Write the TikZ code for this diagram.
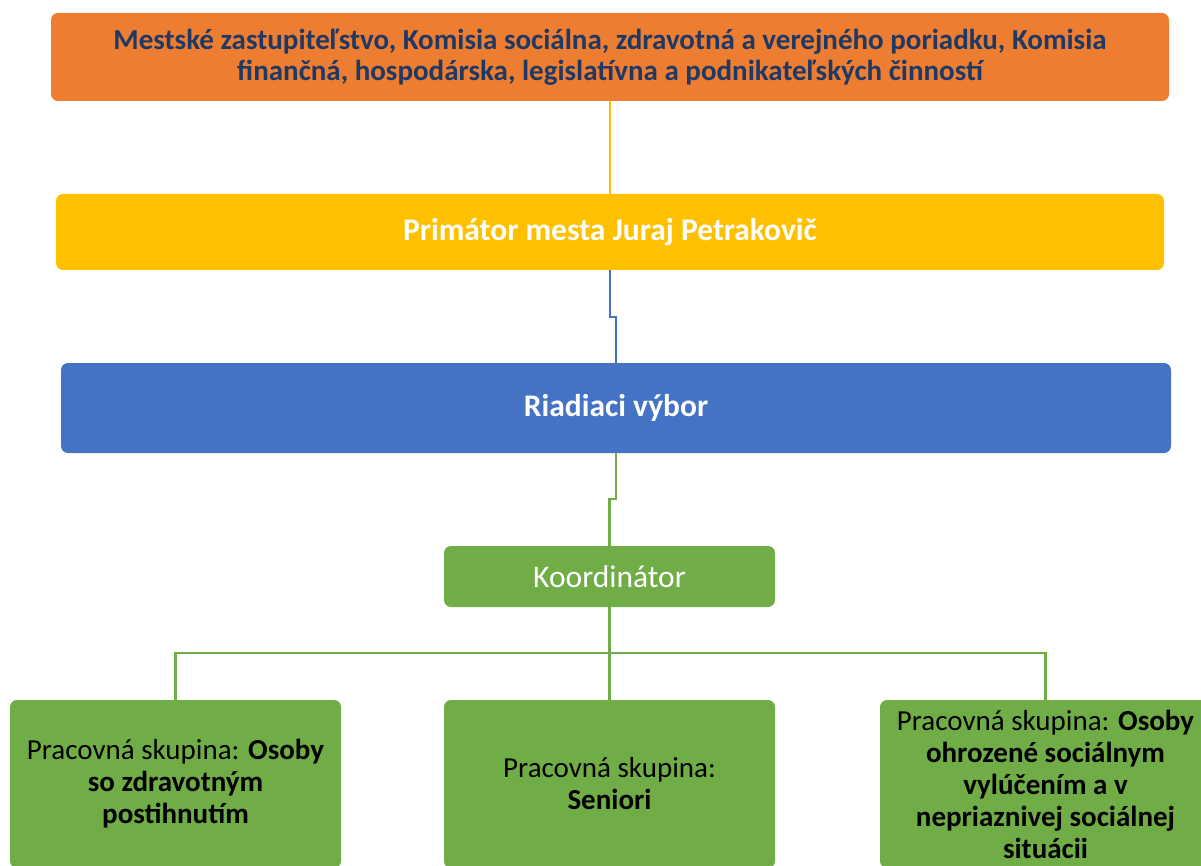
\documentclass[tikz,border=0pt]{standalone}
\usepackage{fontspec}
\setmainfont{Carlito}
\definecolor{orgorange}{HTML}{ED7D31}
\definecolor{orgyellow}{HTML}{FFC000}
\definecolor{orgblue}{HTML}{4472C4}
\definecolor{orggreen}{HTML}{70AD47}
\definecolor{orgnavy}{HTML}{203864}
\begin{document}
\begin{tikzpicture}[x=1pt,y=-1pt]
\tikzset{unit/.style={rounded corners=7pt, inner sep=0pt, align=center, text=white, font=\fontsize{31.5}{36}\selectfont},
  group/.style={unit, fill=orggreen, minimum width=331pt, minimum height=168pt, text=black, font=\fontsize{29}{32}\selectfont}}
    \useasboundingbox (0,0) rectangle (1201,866);
    \clip (0,0) rectangle (1201,866);

    \node[unit, fill=orgorange, minimum width=1118pt, minimum height=88pt, text=orgnavy, font=\fontsize{29}{31}\selectfont\bfseries] at (610,57) (council)
      {Mestské zastupiteľstvo, Komisia sociálna, zdravotná a verejného poriadku, Komisia\\finančná, hospodárska, legislatívna a podnikateľských činností};
    \node[unit, fill=orgyellow, minimum width=1108pt, minimum height=76pt, font=\fontsize{31.5}{36}\selectfont\bfseries] at (610,232) (mayor) {Primátor mesta Juraj Petrakovič};
    \node[unit, fill=orgblue, minimum width=1110pt, minimum height=90pt, font=\fontsize{31.5}{36}\selectfont\bfseries] at (616,408) (board) {Riadiaci výbor};
    \node[unit, fill=orggreen, minimum width=331pt, minimum height=61pt] at (609.5,576.5) (coord) {Koordinátor};

    \node[group] at (175.5,784) (disabled) {Pracovná skupina: \textbf{Osoby}\\\textbf{so zdravotným}\\\textbf{postihnutím}};
    \node[group] at (609.5,784) (seniors) {Pracovná skupina:\\\textbf{Seniori}};
    \node[group] at (1045.5,784) (excluded) {Pracovná skupina: \textbf{Osoby}\\\textbf{ohrozené sociálnym}\\\textbf{vylúčením a v}\\\textbf{nepriaznivej sociálnej}\\\textbf{situácii}};

    \draw[orgyellow, line width=2pt] (council) -- (mayor);
    \draw[orgblue, line width=2.5pt] (mayor.south) -- ++(0,47) -| (board.north);
    \draw[orggreen, line width=2.5pt] (board.south) -- ++(0,46) -| (coord.north);
    \draw[orggreen, line width=2.5pt] (coord.south) -- ++(0,46) -| (disabled.north);
    \draw[orggreen, line width=2.5pt] (coord.south) -- (seniors.north);
    \draw[orggreen, line width=2.5pt] (coord.south) -- ++(0,46) -| (excluded.north);
  \end{tikzpicture}
\end{document}
